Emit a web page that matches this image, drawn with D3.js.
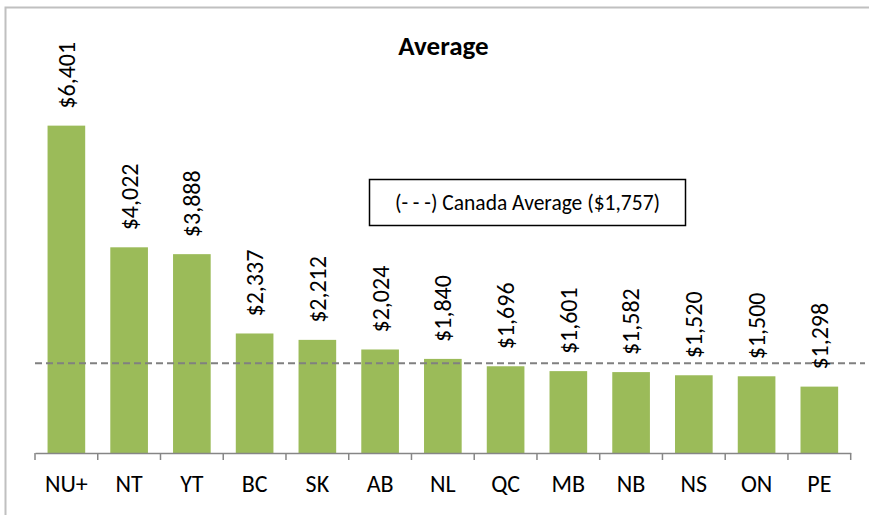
<!DOCTYPE html>
<html lang="en">
<head>
<meta charset="UTF-8">
<title>Average</title>
<style>
  body { margin: 0; background: #fff; }
  text { font-family: Carlito, Calibri, Lato, sans-serif; fill: #000; }
</style>
</head>
<body>
<script src="https://d3js.org/d3.v7.min.js"></script>
<script>
// data
var provinces = ['NU+', 'NT', 'YT', 'BC', 'SK', 'AB', 'NL', 'QC', 'MB', 'NB', 'NS', 'ON', 'PE'];
var averages = [6401, 4022, 3888, 2337, 2212, 2024, 1840, 1696, 1601, 1582, 1520, 1500, 1298];
var canadaAverage = 1757;
var chartTitle = 'Average';
var legendText = '(- - -) Canada Average ($1,757)';

var width = 869, height = 515;
var margin = {top: 95, right: 18, bottom: 62, left: 35};

var svg = d3.select('body').append('svg')
    .attr('width', width)
    .attr('height', height);

// chart frame (runs off right / bottom edge)
svg.append('rect')
    .attr('x', 5.5).attr('y', 7.5)
    .attr('width', 900).attr('height', 600)
    .style('fill', 'none')
    .style('stroke', '#c0c0c0')
    .style('stroke-width', 2);

var data = provinces.map((p, i) => ({name: p, value: averages[i]}));

var xScale = d3.scaleBand()
    .domain(provinces)
    .range([margin.left, 850.7])
    .paddingInner(0.4)
    .paddingOuter(0.2);

var yScale = d3.scaleLinear()
    .domain([0, 7000])
    .range([height - margin.bottom, margin.top]);

var base = yScale(0);

svg.selectAll('.bar')
    .data(data)
    .enter().append('rect')
    .attr('class', 'bar')
    .attr('x', d => xScale(d.name))
    .attr('y', d => yScale(d.value))
    .attr('width', xScale.bandwidth())
    .attr('height', d => base - yScale(d.value))
    .style('fill', '#9bbb59');

// canada average dashed line
svg.append('line')
    .attr('x1', margin.left)
    .attr('x2', 865)
    .attr('y1', yScale(canadaAverage))
    .attr('y2', yScale(canadaAverage))
    .style('stroke', '#808080')
    .style('stroke-width', 2)
    .style('stroke-dasharray', '7,4');

// value labels, rotated
var fmt = d3.format(',');
svg.selectAll('.val')
    .data(data)
    .enter().append('text')
    .attr('class', 'val')
    .text(d => '$' + fmt(d.value))
    .attr('text-anchor', 'start')
    .attr('dy', '0.35em')
    .style('font-size', '24px')
    .attr('transform', d => `translate(${xScale(d.name) + xScale.bandwidth() / 2}, ${yScale(d.value) - 17}) rotate(-90)`);

// x axis
var axis = svg.append('g')
    .attr('transform', `translate(0, ${base})`)
    .call(d3.axisBottom(xScale).tickSize(0).tickSizeOuter(0));

axis.select('.domain')
    .style('stroke', '#868686')
    .style('stroke-width', 1.5);

axis.selectAll('text')
    .attr('dy', null)
    .attr('y', 39)
    .style('font-size', '24px');

// tick marks between categories
var step = xScale.step();
var x0 = xScale.range()[0];
svg.selectAll('.tick-mark')
    .data(d3.range(provinces.length + 1))
    .enter().append('line')
    .attr('class', 'tick-mark')
    .attr('x1', i => x0 + i * step)
    .attr('x2', i => x0 + i * step)
    .attr('y1', base)
    .attr('y2', base + 7)
    .style('stroke', '#868686')
    .style('stroke-width', 1.5);

// title
svg.append('text')
    .text(chartTitle)
    .attr('x', 443.5)
    .attr('y', 55)
    .attr('text-anchor', 'middle')
    .style('font-size', '27px')
    .style('font-weight', 'bold');

// legend box
svg.append('rect')
    .attr('x', 369.5).attr('y', 179.5)
    .attr('width', 316).attr('height', 46)
    .style('fill', '#fff')
    .style('stroke', '#000')
    .style('stroke-width', 1.5);

svg.append('text')
    .text(legendText)
    .attr('x', 527.5)
    .attr('y', 210)
    .attr('text-anchor', 'middle')
    .style('font-size', '21.5px');
</script>
</body>
</html>
